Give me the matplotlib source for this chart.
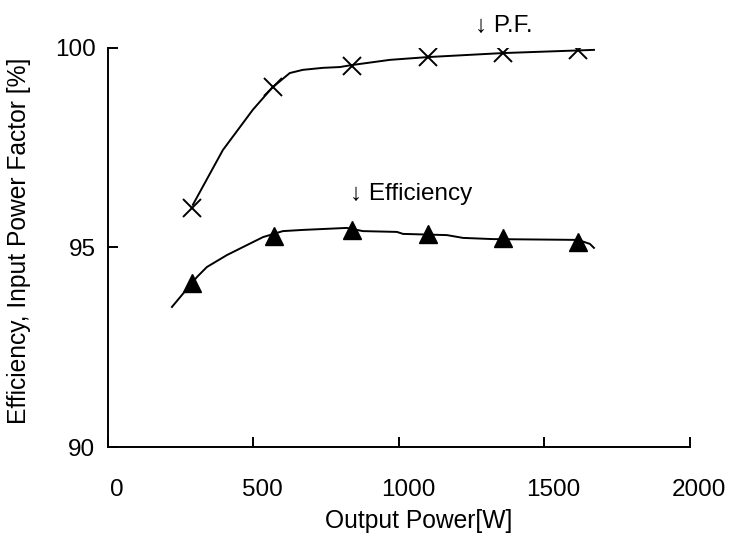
import matplotlib
matplotlib.use("Agg")
import matplotlib.pyplot as plt
from matplotlib.transforms import ScaledTranslation

plt.rcParams["font.family"] = ["Liberation Sans", "DejaVu Sans"]

# measured points (markers)
pf_power = [289, 567, 838, 1100, 1357, 1615]
pf_value = [95.99, 99.02, 99.55, 99.77, 99.87, 99.95]
eff_power = [289, 570, 838, 1100, 1357, 1615]
eff_value = [94.11, 95.29, 95.45, 95.33, 95.23, 95.14]

# traced curves
pf_curve_x = [292, 395, 498, 564, 625, 670, 739, 797, 838, 969, 1100, 1357, 1670]
pf_curve_y = [96.07, 97.44, 98.45, 99.00, 99.37, 99.45, 99.50, 99.52, 99.57,
              99.70, 99.77, 99.87, 99.95]
eff_curve_x = [220, 306, 340, 409, 464, 533, 601, 670, 821, 876, 993, 1014,
               1165, 1220, 1323, 1615, 1656, 1670]
eff_curve_y = [93.51, 94.26, 94.51, 94.81, 95.01, 95.26, 95.41, 95.44, 95.49,
               95.41, 95.39, 95.34, 95.31, 95.24, 95.21, 95.19, 95.09, 94.99]

fig = plt.figure(figsize=(7.29, 5.38), dpi=100)
ax = fig.add_axes([0.148, 0.169, 0.7985, 0.742])

ax.plot(pf_curve_x, pf_curve_y, color="black", linewidth=1.4)
ax.plot(eff_curve_x, eff_curve_y, color="black", linewidth=1.4)
ax.plot(pf_power, pf_value, linestyle="none", marker="x", markersize=13,
        markeredgewidth=1.4, color="black")
ax.plot(eff_power, eff_value, linestyle="none", marker="^", markersize=13,
        color="black")

ax.text(1262, 100.55, "↓ P.F.", fontsize=17.5, ha="left", va="center")
ax.text(832, 96.35, "↓ Efficiency", fontsize=17.5, ha="left", va="center")

ax.set_xlim(0, 2000)
ax.set_ylim(90, 100)
ax.set_xticks([0, 500, 1000, 1500, 2000])
ax.set_yticks([90, 95, 100])
ax.spines["top"].set_visible(False)
ax.spines["right"].set_visible(False)
ax.spines["left"].set_linewidth(1.4)
ax.spines["bottom"].set_linewidth(1.4)
ax.tick_params(direction="in", length=7, width=1.4, labelsize=17.5)
ax.tick_params(axis="x", pad=23)
ax.tick_params(axis="y", pad=9)

# x tick labels sit a little right of their ticks in the original
shift = ScaledTranslation(0.09, 0, fig.dpi_scale_trans)
for lbl in ax.get_xticklabels():
    lbl.set_transform(lbl.get_transform() + shift)

ax.set_xlabel("Output Power[W]", fontsize=17.7)
ax.xaxis.set_label_coords(0.5335, -0.156)
ax.set_ylabel("Efficiency, Input Power Factor [%]", fontsize=17.7)
ax.yaxis.set_label_coords(-0.132, 0.516)

fig.savefig("out.png", dpi=100)
